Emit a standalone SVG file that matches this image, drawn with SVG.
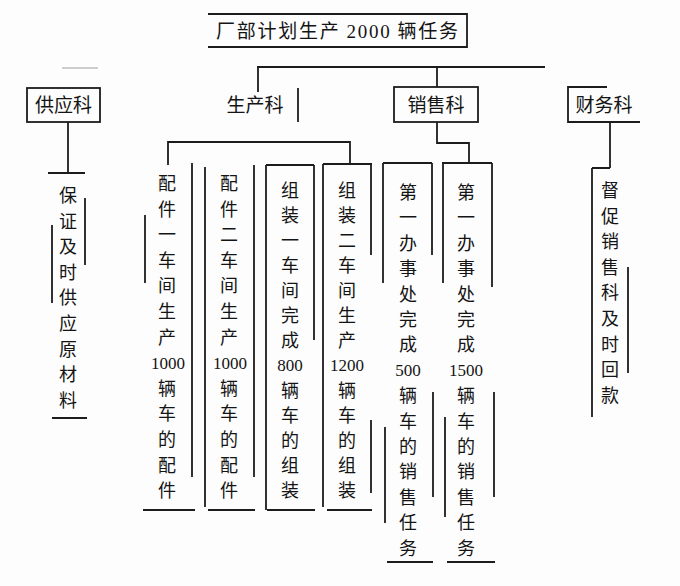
<svg xmlns="http://www.w3.org/2000/svg" width="680" height="586" viewBox="0 0 680 586">
<style>
.ln{fill:none;stroke:#1c1c1c;stroke-width:1.8}
.fl{fill:none;stroke:#bdbdbd;stroke-width:1.5}
.t{font-family:"Noto Sans CJK SC","Noto Sans CJK TC",sans-serif;font-size:18px;fill:#141414;text-anchor:middle}
.n{font-family:"Liberation Serif","Noto Sans CJK SC",serif;font-size:17px;fill:#141414;text-anchor:middle}
.h{font-family:"Noto Sans CJK SC","Liberation Serif",sans-serif;font-size:19px;fill:#141414}
</style>
<rect width="680" height="586" fill="#fdfdfd"/>
<g id="connectors">
<path class="ln" d="M257,67 H545"/>
<path class="fl" d="M62,68 H98"/>
<path class="ln" d="M258,67 V92"/>
<path class="ln" d="M437,67 V87"/>
<path class="ln" d="M68,122 V173"/>
<path class="ln" d="M168,165 V142 H350 V164"/>
<path class="ln" d="M437,122 V143 H469 V163"/>
<path class="ln" d="M610,122 V168"/>
</g>
<g id="top">
<path class="ln" d="M208,14 H467 V47 H208"/>
<text class="h" x="216" y="38" textLength="242" lengthAdjust="spacing">厂部计划生产 <tspan font-family="Liberation Serif">2000</tspan> 辆任务</text>
</g>
<g id="supply">
<rect class="ln" x="27" y="88" width="73" height="34"/>
<text class="h" x="63.5" y="112" text-anchor="middle">供应科</text>
</g>
<g id="production">
<path class="ln" d="M298,88 V122"/>
<text class="h" x="255" y="112" text-anchor="middle">生产科</text>
</g>
<g id="sales">
<rect class="ln" x="394" y="87" width="84" height="35"/>
<text class="h" x="436" y="112" text-anchor="middle">销售科</text>
</g>
<g id="finance">
<path class="ln" d="M607,87 H568 V122 H640"/>
<text class="h" x="604" y="112" text-anchor="middle">财务科</text>
</g>
<g id="supply-task">
<path class="ln" d="M48,173 H85 M52,225 V303 M85,198 V265 M52,418 H87"/>
<text class="t"><tspan x="68" y="202">保</tspan><tspan x="68" y="227.6">证</tspan><tspan x="68" y="253.2">及</tspan><tspan x="68" y="278.8">时</tspan><tspan x="68" y="304.4">供</tspan><tspan x="68" y="330">应</tspan><tspan x="68" y="355.6">原</tspan><tspan x="68" y="381.2">材</tspan><tspan x="68" y="406.8">料</tspan></text>
</g>
<g id="workshop1">
<path class="ln" d="M145,215 V283 M192,163 V477 M143,510 H195"/>
<text class="t"><tspan x="167" y="190">配</tspan><tspan x="167" y="215.6">件</tspan><tspan x="167" y="241.2">一</tspan><tspan x="167" y="266.8">车</tspan><tspan x="167" y="292.4">间</tspan><tspan x="167" y="318">生</tspan><tspan x="167" y="343.6">产</tspan></text>
<text class="n" x="168" y="369">1000</text>
<text class="t"><tspan x="167" y="394.8">辆</tspan><tspan x="167" y="420.4">车</tspan><tspan x="167" y="446">的</tspan><tspan x="167" y="471.6">配</tspan><tspan x="167" y="497.2">件</tspan></text>
</g>
<g id="workshop2">
<path class="ln" d="M205,167 V507 M254,165 V477 M208,510 H255"/>
<text class="t"><tspan x="229" y="190">配</tspan><tspan x="229" y="215.6">件</tspan><tspan x="229" y="241.2">二</tspan><tspan x="229" y="266.8">车</tspan><tspan x="229" y="292.4">间</tspan><tspan x="229" y="318">生</tspan><tspan x="229" y="343.6">产</tspan></text>
<text class="n" x="230" y="369">1000</text>
<text class="t"><tspan x="229" y="394.8">辆</tspan><tspan x="229" y="420.4">车</tspan><tspan x="229" y="446">的</tspan><tspan x="229" y="471.6">配</tspan><tspan x="229" y="497.2">件</tspan></text>
</g>
<g id="assembly1">
<path class="ln" d="M266,165 H314 M266,165 V510 M314,165 V340 M267,510 H315"/>
<text class="t"><tspan x="290" y="197">组</tspan><tspan x="290" y="222">装</tspan><tspan x="290" y="247">一</tspan><tspan x="290" y="272">车</tspan><tspan x="290" y="297">间</tspan><tspan x="290" y="322">完</tspan><tspan x="290" y="347">成</tspan></text>
<text class="n" x="290" y="371">800</text>
<text class="t"><tspan x="290" y="397">辆</tspan><tspan x="290" y="422">车</tspan><tspan x="290" y="447">的</tspan><tspan x="290" y="472">组</tspan><tspan x="290" y="497">装</tspan></text>
</g>
<g id="assembly2">
<path class="ln" d="M323,164 H372 M323,164 V507 M371,164 V255 M371,420 V493 M327,510 H372"/>
<text class="t"><tspan x="347" y="197">组</tspan><tspan x="347" y="222">装</tspan><tspan x="347" y="247">二</tspan><tspan x="347" y="272">车</tspan><tspan x="347" y="297">间</tspan><tspan x="347" y="322">生</tspan><tspan x="347" y="347">产</tspan></text>
<text class="n" x="347" y="371">1200</text>
<text class="t"><tspan x="347" y="397">辆</tspan><tspan x="347" y="422">车</tspan><tspan x="347" y="447">的</tspan><tspan x="347" y="472">组</tspan><tspan x="347" y="497">装</tspan></text>
</g>
<g id="office1">
<path class="ln" d="M383,163 H432 M383,163 V283 M385,427 V523 M432,163 V255 M433,392 V497 M387,562 H433"/>
<text class="t"><tspan x="408" y="199">第</tspan><tspan x="408" y="224.4">一</tspan><tspan x="408" y="249.8">办</tspan><tspan x="408" y="275.2">事</tspan><tspan x="408" y="300.6">处</tspan><tspan x="408" y="326">完</tspan><tspan x="408" y="351.4">成</tspan></text>
<text class="n" x="408" y="376">500</text>
<text class="t"><tspan x="408" y="402.2">辆</tspan><tspan x="408" y="427.6">车</tspan><tspan x="408" y="453">的</tspan><tspan x="408" y="478.4">销</tspan><tspan x="408" y="503.8">售</tspan><tspan x="408" y="529.2">任</tspan><tspan x="408" y="554.6">务</tspan></text>
</g>
<g id="office2">
<path class="ln" d="M442,163 H492 M443,163 V283 M445,417 V517 M492,163 V287 M494,392 V497 M447,562 H495"/>
<text class="t"><tspan x="466" y="199">第</tspan><tspan x="466" y="224.4">一</tspan><tspan x="466" y="249.8">办</tspan><tspan x="466" y="275.2">事</tspan><tspan x="466" y="300.6">处</tspan><tspan x="466" y="326">完</tspan><tspan x="466" y="351.4">成</tspan></text>
<text class="n" x="466" y="376">1500</text>
<text class="t"><tspan x="466" y="402.2">辆</tspan><tspan x="466" y="427.6">车</tspan><tspan x="466" y="453">的</tspan><tspan x="466" y="478.4">销</tspan><tspan x="466" y="503.8">售</tspan><tspan x="466" y="529.2">任</tspan><tspan x="466" y="554.6">务</tspan></text>
</g>
<g id="finance-task">
<path class="ln" d="M592,168 H610 M592,168 V417 M628,267 V373"/>
<text class="t"><tspan x="610" y="197">督</tspan><tspan x="610" y="222.6">促</tspan><tspan x="610" y="248.2">销</tspan><tspan x="610" y="273.8">售</tspan><tspan x="610" y="299.4">科</tspan><tspan x="610" y="325">及</tspan><tspan x="610" y="350.6">时</tspan><tspan x="610" y="376.2">回</tspan><tspan x="610" y="401.8">款</tspan></text>
</g>
</svg>
